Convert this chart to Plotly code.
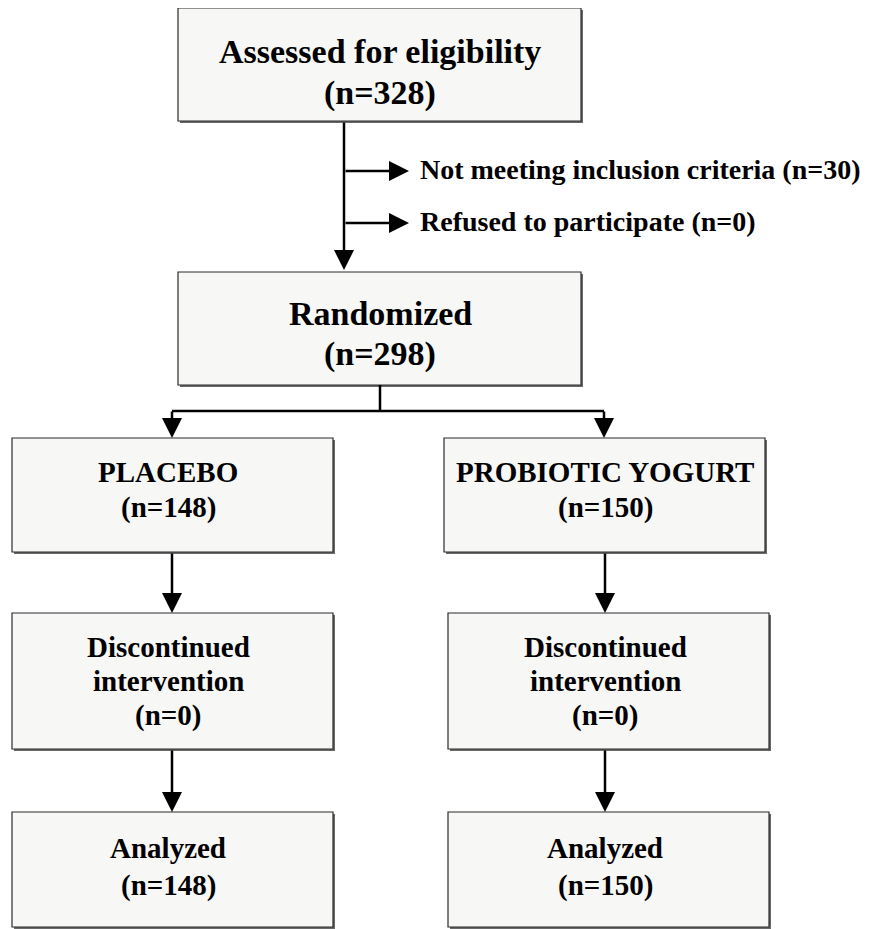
import plotly.graph_objects as go

# ---- data ----
top_label = "Assessed for eligibility"
assessed_n = 328
exclusion_labels = ["Not meeting inclusion criteria", "Refused to participate"]
exclusion_n = [30, 0]
randomized_label = "Randomized"
randomized_n = 298
group_labels = ["PLACEBO", "PROBIOTIC YOGURT"]
allocated_n = [148, 150]
discontinued_label = ["Discontinued", "intervention"]
discontinued_n = [0, 0]
analyzed_label = "Analyzed"
analyzed_n = [148, 150]

FONT = "Liberation Serif"
W, H = 880, 929
OFF = 8  # page body margin

fig = go.Figure()
shapes = []
annots = []


def box(x0, x1, y0, y1):
    shapes.append(dict(type="rect", x0=x0 + 2, x1=x1 + 2, y0=y0 + 2, y1=y1 + 2,
                       line=dict(width=0), fillcolor="#6a6a6a", layer="below"))
    shapes.append(dict(type="rect", x0=x0, x1=x1, y0=y0, y1=y1,
                       line=dict(width=1.2, color="#2a2a2a"), fillcolor="#f7f7f5", layer="below"))


def text(x, y, s, size, anchor="center"):
    annots.append(dict(x=x, y=y, xref="x", yref="y", text="<b>%s</b>" % s, showarrow=False,
                       xanchor=anchor, yanchor="middle",
                       font=dict(family=FONT, size=size, color="black")))


def line(x0, y0, x1, y1):
    shapes.append(dict(type="line", x0=x0, y0=y0, x1=x1, y1=y1,
                       line=dict(width=2.5, color="black")))


def arrow(x0, y0, x1, y1):
    annots.append(dict(x=x1, y=y1, ax=x0, ay=y0, xref="x", yref="y", axref="x", ayref="y",
                       text="", showarrow=True, arrowhead=2, arrowsize=1.6, arrowwidth=2.5,
                       arrowcolor="black", standoff=0, startstandoff=0))


# top box
box(178, 581, 8, 121)
text(380, 51, top_label, 34)
text(380, 93, "(n=%d)" % assessed_n, 34)

# exclusions
arrow(344, 121, 344, 270)
for yy, lab, n in zip([171, 223], exclusion_labels, exclusion_n):
    arrow(344, yy, 409, yy)
    text(418, yy - 2, "%s (n=%d)" % (lab, n), 28, anchor="left")

# randomized
box(178, 581, 272, 385)
text(380, 313, randomized_label, 34)
text(380, 354, "(n=%d)" % randomized_n, 34)

# split
line(380, 385, 380, 411)
line(172, 411, 604, 411)
arrow(172, 410, 172, 438)
arrow(604, 410, 604, 438)

cols = [(12, 333, 172), (444, 765, 604)]
cols2 = [(12, 333, 172), (448, 769, 605)]
for i in range(2):
    x0, x1, cx = cols[i]
    box(x0, x1, 438, 552)
    text(cx - 4 if i == 0 else cx + 1, 472, group_labels[i], 29)
    text(cx - 4 if i == 0 else cx + 1, 507, "(n=%d)" % allocated_n[i], 29)
    ax = cx if i == 0 else 605
    arrow(ax, 552, ax, 613)
    x0, x1, cx2 = cols2[i]
    box(x0, x1, 613, 749)
    tx = 168 if i == 0 else 605
    text(tx, 647, discontinued_label[0], 29)
    text(tx, 681, discontinued_label[1], 29)
    text(tx, 715, "(n=%d)" % discontinued_n[i], 29)
    arrow(ax, 749, ax, 812)
    box(x0, x1, 812, 927)
    text(tx, 848, analyzed_label, 29)
    text(tx, 885, "(n=%d)" % analyzed_n[i], 29)

fig.update_layout(
    width=W, height=H, margin=dict(l=0, r=0, t=0, b=0),
    paper_bgcolor="white", plot_bgcolor="white",
    xaxis=dict(range=[OFF, W + OFF], visible=False, fixedrange=True),
    yaxis=dict(range=[H + OFF, OFF], visible=False, fixedrange=True),
    shapes=shapes, annotations=annots, showlegend=False,
)
fig.write_html("out.html")
